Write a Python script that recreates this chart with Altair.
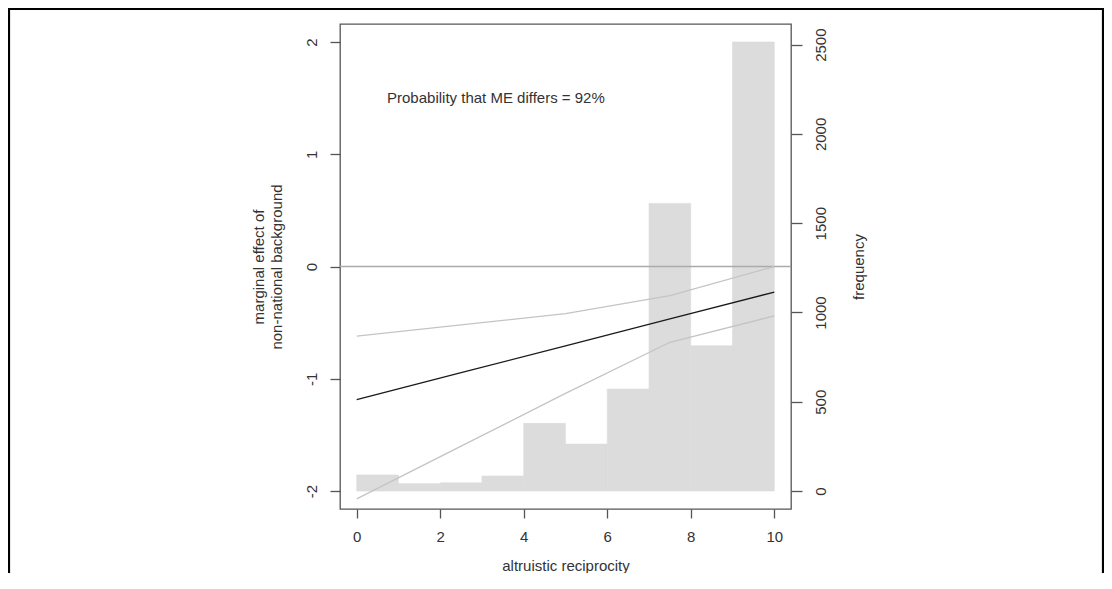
import altair as alt
import pandas as pd

# ---- data ----
bin_start = [0, 1, 2, 3, 4, 5, 6, 7, 8, 9]
bin_end = [1, 2, 3, 4, 5, 6, 7, 8, 9, 10]
frequency = [90, 41, 46, 84, 379, 263, 571, 1611, 813, 2515]

x_points = [0, 2.5, 5, 7.5, 10]
me_estimate = [-1.185, -0.946, -0.706, -0.467, -0.228]
me_upper = [-0.62, -0.52, -0.42, -0.26, 0.0]
me_lower = [-2.07, -1.60, -1.13, -0.675, -0.44]

annotation = "Probability that ME differs = 92%"
annotation_x = [10 / 3]
annotation_y = [1.5]

x_ticks = [0, 2, 4, 6, 8, 10]
me_ticks = [-2, -1, 0, 1, 2]
freq_ticks = [0, 500, 1000, 1500, 2000, 2500]

x_title = "altruistic reciprocity"
me_title = ["marginal effect of", "non-national background"]
freq_title = "frequency"

x_domain = [-0.4, 10.4]
me_domain = [-2.16, 2.16]
fmax = max(frequency)
freq_domain = [(me_domain[0] + 2) / 4 * fmax, (me_domain[1] + 2) / 4 * fmax]

FONT = "Liberation Sans"
TXT = "#333333"
AX = "#555555"
W, H = 451, 485
PAD = {"left": 332, "top": 16, "right": 313, "bottom": 64}
PLAIN = "datum.value + ''"

hist_df = pd.DataFrame({"start": bin_start, "end": bin_end, "freq": frequency,
                        "zero": [0] * len(frequency)})
rows = []
for name, vals in [("upper", me_upper), ("lower", me_lower), ("estimate", me_estimate)]:
    for xv, yv in zip(x_points, vals):
        rows.append({"x": xv, "me": yv, "series": name})
line_df = pd.DataFrame(rows)
ann_df = pd.DataFrame({"x": annotation_x, "y": annotation_y, "label": [annotation]})
one = pd.DataFrame({"a": [0]})


def x_axis():
    return alt.Axis(values=x_ticks, title=x_title, grid=False, domain=False,
                    tickSize=9, tickColor=AX, tickWidth=1.3, labelFlush=False,
                    labelExpr=PLAIN,
                    labelFont=FONT, labelFontSize=15, labelColor=TXT, labelPadding=11,
                    titleFont=FONT, titleFontSize=15, titleFontWeight="normal",
                    titleColor=TXT, titleY=61, titleBaseline="alphabetic")


x_scale = alt.Scale(domain=x_domain, nice=False, zero=False)
me_scale = alt.Scale(domain=me_domain, nice=False, zero=False)

me_axis = alt.Axis(orient="left", values=me_ticks, title=me_title, grid=False, domain=False,
                   tickSize=10, tickColor=AX, tickWidth=1.3, labelFlush=False,
                   labelExpr=PLAIN,
                   labelAngle=270, labelAlign="center", labelBaseline="alphabetic",
                   labelPadding=13.8, labelFont=FONT, labelFontSize=15, labelColor=TXT,
                   titleFont=FONT, titleFontSize=15, titleFontWeight="normal", titleColor=TXT,
                   titleAngle=270, titleAlign="center", titleBaseline="alphabetic",
                   titleX=-77, titleY=H / 2, titleLineHeight=18)

freq_axis = alt.Axis(orient="right", values=freq_ticks, title=freq_title, grid=False, domain=False,
                     tickSize=11, tickColor=AX, tickWidth=1.3, labelFlush=False,
                     labelExpr=PLAIN,
                     labelAngle=270, labelAlign="center", labelBaseline="alphabetic",
                     labelPadding=23.7, labelFont=FONT, labelFontSize=15, labelColor=TXT,
                     titleFont=FONT, titleFontSize=15, titleFontWeight="normal", titleColor=TXT,
                     titleAngle=270, titleAlign="center", titleBaseline="alphabetic",
                     titleX=72, titleY=H / 2)

bars = alt.Chart(hist_df).mark_rect(color="#dcdcdc", stroke="#dcdcdc", strokeWidth=0.6).encode(
    x=alt.X("start:Q", scale=x_scale, axis=x_axis()),
    x2="end:Q",
    y=alt.Y("freq:Q", scale=alt.Scale(domain=freq_domain, nice=False, zero=False), axis=freq_axis),
    y2="zero:Q",
)

zero_rule = alt.Chart(one).mark_rule(color="#aaaaaa", strokeWidth=1.5).encode(
    y=alt.datum(0, scale=me_scale, axis=me_axis)
)

lines = alt.Chart(line_df).mark_line(strokeWidth=1.3).encode(
    x=alt.X("x:Q", scale=x_scale, axis=x_axis()),
    y=alt.Y("me:Q", scale=me_scale, axis=me_axis),
    color=alt.Color("series:N", scale=alt.Scale(domain=["upper", "lower", "estimate"],
                                                range=["#c4c4c4", "#c4c4c4", "#1a1a1a"]),
                    legend=None),
    detail="series:N",
    order=alt.Order("x:Q"),
)

text = alt.Chart(ann_df).mark_text(font=FONT, fontSize=15, color=TXT, align="center",
                                   baseline="middle").encode(
    x=alt.X("x:Q", scale=x_scale, axis=x_axis()),
    y=alt.Y("y:Q", scale=me_scale, axis=me_axis),
    text="label:N",
)

# outer figure frame (decoration)
frame_top = alt.Chart(one).mark_rule(color="black", strokeWidth=2.2).encode(
    x=alt.value(-PAD["left"]), x2=alt.value(W + PAD["right"]), y=alt.value(-PAD["top"] + 1))
frame_left = alt.Chart(one).mark_rule(color="black", strokeWidth=2.2).encode(
    x=alt.value(-PAD["left"] + 1), y=alt.value(-PAD["top"]), y2=alt.value(H + PAD["bottom"] + 40))
frame_right = alt.Chart(one).mark_rule(color="black", strokeWidth=2.2).encode(
    x=alt.value(W + PAD["right"] - 1), y=alt.value(-PAD["top"]), y2=alt.value(H + PAD["bottom"] + 40))

inner = alt.layer(zero_rule, lines, text, frame_top, frame_left, frame_right)

chart = alt.layer(bars, inner).resolve_scale(y="independent").properties(
    width=W, height=H, padding=PAD, autosize=alt.AutoSizeParams(type="none"),
    background="white",
).configure_view(stroke=AX, strokeWidth=1.3)

chart.save("out.html", embed_options={"renderer": "svg", "actions": False})
